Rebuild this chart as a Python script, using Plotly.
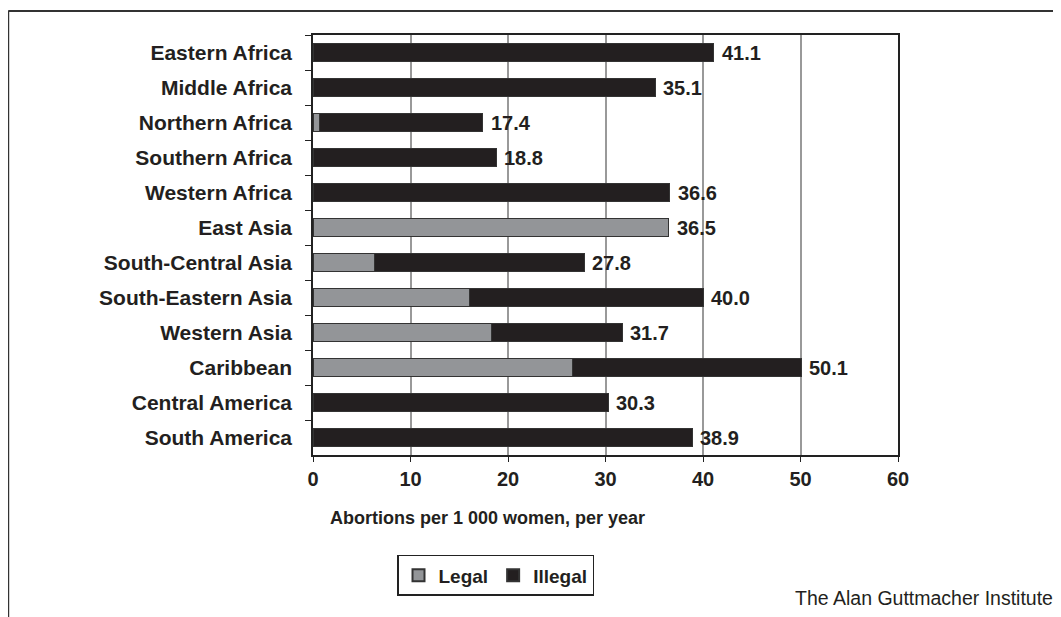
import plotly.graph_objects as go

regions = ["Eastern Africa", "Middle Africa", "Northern Africa", "Southern Africa",
           "Western Africa", "East Asia", "South-Central Asia", "South-Eastern Asia",
           "Western Asia", "Caribbean", "Central America", "South America"]
legal = [0, 0, 0.7, 0, 0, 36.5, 6.3, 16.0, 18.3, 26.6, 0, 0]
illegal = [41.1, 35.1, 16.7, 18.8, 36.6, 0, 21.5, 24.0, 13.4, 23.5, 30.3, 38.9]
totals = [41.1, 35.1, 17.4, 18.8, 36.6, 36.5, 27.8, 40.0, 31.7, 50.1, 30.3, 38.9]
total_labels = ["41.1", "35.1", "17.4", "18.8", "36.6", "36.5", "27.8", "40.0",
                "31.7", "50.1", "30.3", "38.9"]
x_ticks = [0, 10, 20, 30, 40, 50, 60]

FONT = "Liberation Sans, Arial, sans-serif"
DARK = "#231f20"
GRAY = "#939598"

fig = go.Figure()
fig.add_trace(go.Bar(y=regions, x=legal, orientation="h", name="Legal",
                     marker=dict(color=GRAY, line=dict(color="#333333", width=1))))
fig.add_trace(go.Bar(y=regions, x=illegal, orientation="h", name="Illegal",
                     marker=dict(color=DARK, line=dict(color="#333333", width=1))))

annotations = []
for r, t, lab in zip(regions, totals, total_labels):
    annotations.append(dict(x=t, y=r, xref="x", yref="y", text=lab, showarrow=False,
                            xanchor="left", yanchor="middle", xshift=6,
                            font=dict(family=FONT, size=20, color=DARK, weight="bold")))

annotations.append(dict(x=0.299, y=-0.15, xref="paper", yref="paper",
                        text="Abortions per 1 000 women, per year", showarrow=False,
                        xanchor="center", yanchor="middle",
                        font=dict(family=FONT, size=18, color=DARK, weight="bold")))
annotations.append(dict(x=1.268, y=-0.34, xref="paper", yref="paper",
                        text="The Alan Guttmacher Institute", showarrow=False,
                        xanchor="right", yanchor="middle",
                        font=dict(family=FONT, size=19.5, color=DARK)))

shapes = [
    dict(type="line", xref="paper", yref="paper", x0=-0.521, x1=1.3, y0=1.057, y1=1.057,
         line=dict(color="#333333", width=2)),
    dict(type="line", xref="paper", yref="paper", x0=-0.521, x1=-0.521, y0=1.057, y1=-0.4,
         line=dict(color="#333333", width=2)),
]

fig.update_layout(
    barmode="stack",
    bargap=0.48,
    width=1053, height=609,
    margin=dict(l=305, r=163, t=27, b=162),
    paper_bgcolor="white", plot_bgcolor="white",
    font=dict(family=FONT, size=20, color=DARK),
    showlegend=True,
    legend=dict(orientation="h", x=0.1436, y=-0.238, xanchor="left", yanchor="top",
                bordercolor="#222222", borderwidth=1.5,
                font=dict(family=FONT, size=19, color=DARK, weight="bold"),
                itemsizing="constant", traceorder="normal", itemwidth=30,
                tracegroupgap=0),
    annotations=annotations,
    shapes=shapes,
)
fig.update_xaxes(range=[0, 60], tickvals=x_ticks, ticktext=[str(v) for v in x_ticks],
                 showgrid=True, gridcolor="#999999", gridwidth=1.5,
                 showline=True, linecolor="#222222", linewidth=1.5, mirror=True,
                 ticks="outside", ticklen=5, tickcolor="#222222", zeroline=False,
                 tickfont=dict(family=FONT, size=20, color=DARK, weight="bold"))
fig.update_yaxes(categoryorder="array", categoryarray=regions, autorange="reversed",
                 showline=True, linecolor="#222222", linewidth=1.5, mirror=True,
                 ticks="outside", ticklen=6, tickcolor="#222222", tickson="boundaries",
                 showgrid=False, ticklabelstandoff=15,
                 tickfont=dict(family=FONT, size=21, color=DARK, weight="bold"))

fig.write_html("out.html")
